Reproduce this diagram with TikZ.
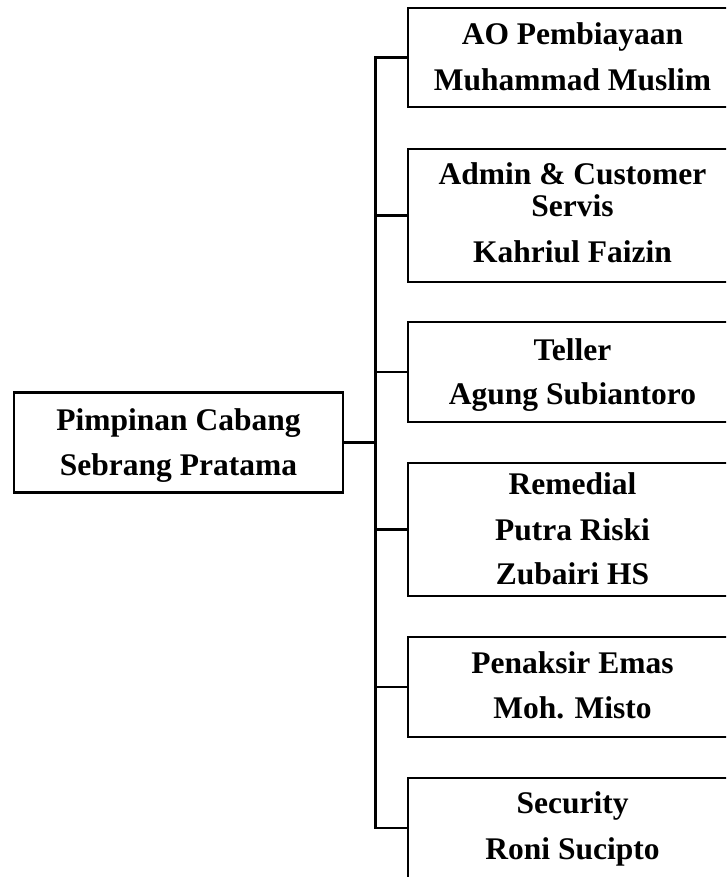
\documentclass[tikz,border=0pt]{standalone}
\usepackage{fontspec}
\setmainfont{Liberation Serif}
\begin{document}
\begin{tikzpicture}[x=1pt,y=-1pt,
  box/.style={draw=black, line width=2.4pt, rectangle, inner sep=0pt, minimum width=329pt},
  txt/.style={anchor=base, inner sep=0pt, font=\bfseries\fontsize{31.5}{36}\selectfont},
  link/.style={draw=black, line width=2.4pt, line cap=rect}]
\useasboundingbox (0,0) rectangle (726,877);
\clip (0,0) rectangle (726,877);
% boxes
\node[box, minimum height=329pt, minimum height=100pt] (m) at (178.5,442.5) {};
\node[box, minimum height=99pt]  (b1) at (572.5,57.5) {};
\node[box, minimum height=133pt] (b2) at (572.5,215.5) {};
\node[box, minimum height=100pt] (b3) at (572.5,372) {};
\node[box, minimum height=133pt] (b4) at (572.5,529.5) {};
\node[box, minimum height=100pt] (b5) at (572.5,687) {};
\node[box, minimum height=100pt] (b6) at (572.5,828) {};
% texts
\node[txt] (m1) at (178.5,430) {Pimpinan Cabang};
\node[txt] (m2) at (178.5,475.5) {Sebrang Pratama};
\node[txt] (t11) at (572.5,45) {AO Pembiayaan};
\node[txt] (t12) at (572.5,90.5) {Muhammad Muslim};
\node[txt] (t21) at (572.5,185) {Admin \& Customer};
\node[txt] (t22) at (572.5,217) {Servis};
\node[txt] (t23) at (572.5,262) {Kahriul Faizin};
\node[txt] (t31) at (572.5,360) {Teller};
\node[txt] (t32) at (572.5,404) {Agung Subiantoro};
\node[txt] (t41) at (572.5,494) {Remedial};
\node[txt] (t42) at (572.5,540) {Putra Riski};
\node[txt] (t43) at (572.5,584) {Zubairi HS};
\node[txt] (t51) at (572.5,673) {Penaksir Emas};
\node[txt] (t52) at (572.5,718) {Moh. Misto};
\node[txt] (t61) at (572.5,813) {Security};
\node[txt] (t62) at (572.5,859) {Roni Sucipto};
% connectors
\coordinate (j) at (375.5,442.5);
\draw[link] (m.east) -- (j);
\draw[link] (b1.west -| j) -- (b6.west -| j);
\foreach \b in {b1,b2,b3,b4,b5,b6}
  \draw[link] (\b.west -| j) -- (\b.west);
\end{tikzpicture}
\end{document}
